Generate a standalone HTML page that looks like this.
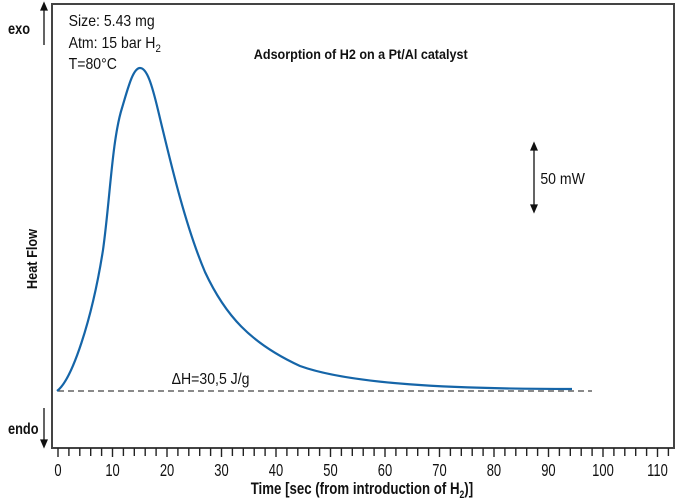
<!DOCTYPE html>
<html><head><style>
body{margin:0;background:#fff;}
svg{display:block;font-family:"Liberation Sans",sans-serif;}
</style></head><body>
<svg width="678" height="500" viewBox="0 0 678 500">
<rect x="52" y="4" width="622" height="444" fill="none" stroke="#444" stroke-width="2"/>
<g stroke="#222" stroke-width="1.4">
<path d="M58 448V457M68.9 448V456M79.8 448V456M90.7 448V456M101.6 448V456M112.5 448V457M123.4 448V456M134.3 448V456M145.2 448V456M156.1 448V456M167 448V457M177.9 448V456M188.8 448V456M199.7 448V456M210.6 448V456M221.5 448V457M232.4 448V456M243.3 448V456M254.2 448V456M265.1 448V456M276 448V457M286.9 448V456M297.8 448V456M308.7 448V456M319.6 448V456M330.5 448V457M341.4 448V456M352.3 448V456M363.2 448V456M374.1 448V456M385 448V457M395.9 448V456M406.8 448V456M417.7 448V456M428.6 448V456M439.5 448V457M450.4 448V456M461.3 448V456M472.2 448V456M483.1 448V456M494 448V457M504.9 448V456M515.8 448V456M526.7 448V456M537.6 448V456M548.5 448V457M559.4 448V456M570.3 448V456M581.2 448V456M592.1 448V456M603 448V457M613.9 448V456M624.8 448V456M635.7 448V456M646.6 448V456M657.5 448V457M668.4 448V456"/>
</g>
<g font-size="18" text-anchor="middle" fill="#111" transform="scale(0.72,1)">
<text x="80.6" y="476">0</text><text x="156.3" y="476">10</text><text x="232" y="476">20</text><text x="307.6" y="476">30</text><text x="383.3" y="476">40</text><text x="459" y="476">50</text><text x="534.7" y="476">60</text><text x="610.4" y="476">70</text><text x="686" y="476">80</text><text x="761.7" y="476">90</text><text x="837.5" y="476">100</text><text x="913.2" y="476">110</text>
</g>
<g font-size="17" font-weight="bold" text-anchor="middle" fill="#111" transform="scale(0.78,1)">
<text x="464" y="494">Time [sec (from introduction of H<tspan font-size="11" dy="4">2</tspan><tspan dy="-4">)]</tspan></text>
</g>
<g font-weight="bold" fill="#111" font-size="16">
<text x="10" y="34" transform="scale(0.8,1)">exo</text>
<text x="10" y="434" transform="scale(0.8,1)">endo</text>
<text transform="translate(37,259) rotate(-90) scale(0.85,1)" text-anchor="middle" font-size="15">Heat Flow</text>
<text x="282" y="59" font-size="14" transform="scale(0.9,1)">Adsorption of H2 on a Pt/Al catalyst</text>
</g>
<g stroke="#111" stroke-width="1.3" fill="#111">
<line x1="44" y1="8" x2="44" y2="45"/><path d="M41 10L44 3L47 10Z"/>
<line x1="44" y1="408" x2="44" y2="443"/><path d="M41 440L44 447L47 440Z"/>
<line x1="534" y1="145" x2="534" y2="210"/><path d="M531 150L534 143L537 150Z"/><path d="M531 205L534 212L537 205Z"/>
</g>
<g font-size="16" fill="#111" transform="scale(0.88,1)">
<text x="78" y="26">Size:  5.43 mg</text>
<text x="78" y="48">Atm:  15 bar H<tspan font-size="11" dy="4">2</tspan></text>
<text x="78" y="69">T=80°C</text>
<text x="614" y="184">50 mW</text>
<text x="195" y="384">ΔH=30,5 J/g</text>
</g>
<line x1="58" y1="391" x2="592" y2="391" stroke="#444" stroke-width="1.2" stroke-dasharray="6,4"/>
<path d="M57 391 C72 380 92 320 103 250 C110 200 112 140 122 108 C128 88 133 68 140 68 C147 68 152 85 158 110 C170 160 185 225 205 272 C225 315 250 343 300 366 C350 384 450 389 572 389" fill="none" stroke="#1565a8" stroke-width="2.2"/>
</svg>
</body></html>
